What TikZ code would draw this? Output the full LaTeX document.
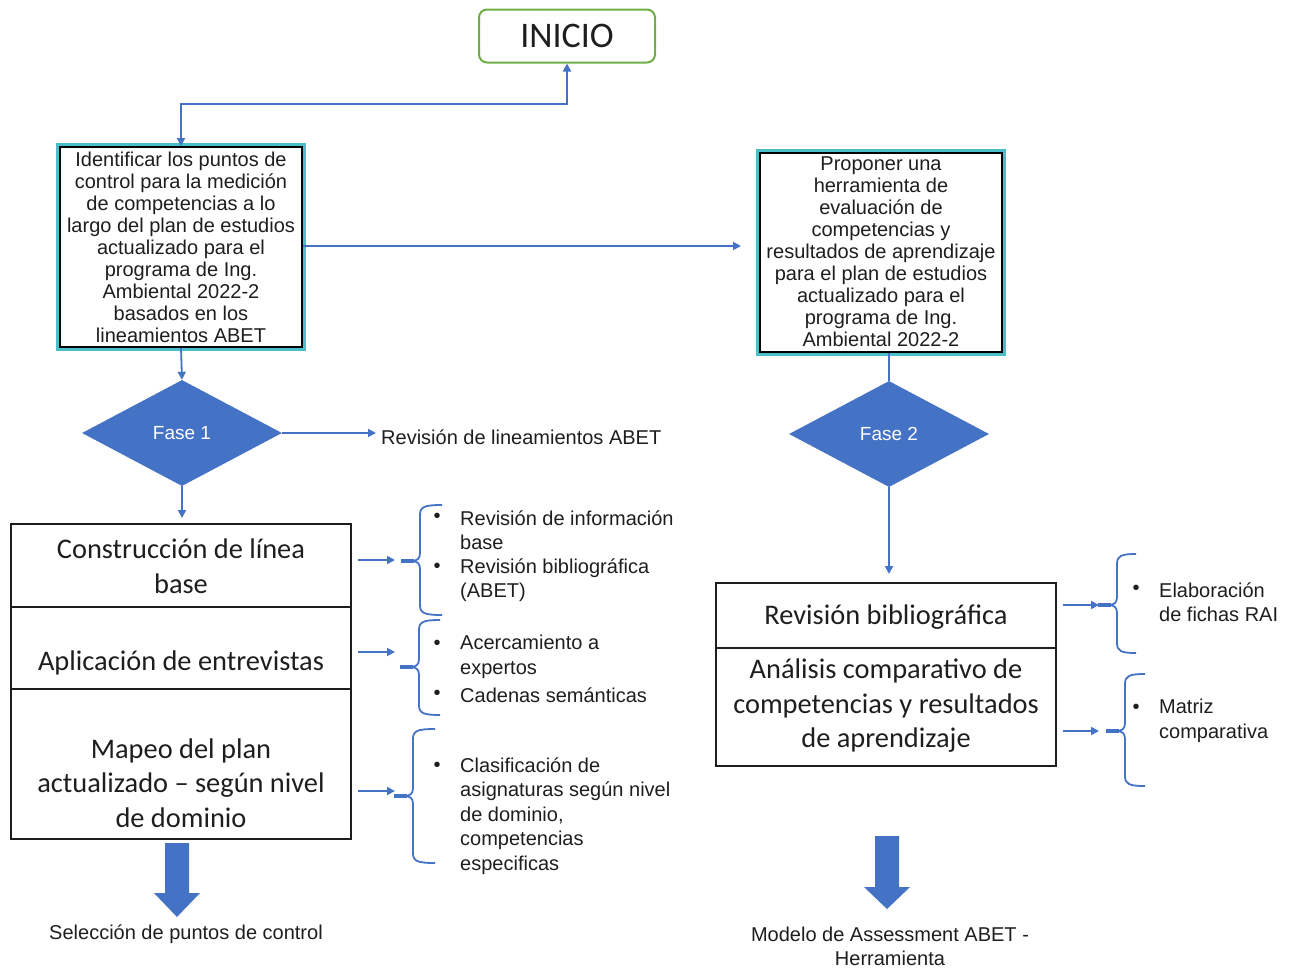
\documentclass[tikz,border=0pt]{standalone}
\usepackage{fontspec}
\setmainfont{Liberation Sans}
\newfontfamily\calfont{Carlito}
\usetikzlibrary{shapes.geometric,arrows.meta,calc}
\definecolor{ablue}{HTML}{4472C4}
\definecolor{agreen}{HTML}{70AD47}
\definecolor{acyan}{HTML}{4BBFC9}
\definecolor{txt}{HTML}{1E1E1E}
\newcommand\bracepath[5]{%
  % #1 x of vertical, #2 top, #3 tip, #4 bottom, #5 hook x end
  \draw[bracestyle] (#5,#2) .. controls ({#1+4},#2) and (#1,{#2+2}) .. (#1,{#2+10})
    -- (#1,{#3-8}) .. controls (#1,{#3-2}) and ({#1-3},#3) .. ({#1-9},#3)
    .. controls ({#1-3},#3) and (#1,{#3+2}) .. (#1,{#3+8})
    -- (#1,{#4-10}) .. controls (#1,{#4-2}) and ({#1+4},#4) .. (#5,#4);
  \draw[ablue,line width=3.5pt] ({#1-19},#3) -- ({#1-6},#3);
}
\begin{document}
\begin{tikzpicture}[x=1pt,y=-1pt,
  conn/.style={draw=ablue, line width=1.8pt, -{Triangle[length=8pt,width=8pt]}},
  plainline/.style={draw=ablue, line width=1.8pt},
  bracestyle/.style={draw=ablue, line width=1.8pt},
  topbox/.style={draw=black, fill=white, line width=2pt, minimum width=242pt, minimum height=200pt,
    inner sep=0pt, align=center, font=\fontsize{20}{22}\selectfont, text=txt,
    preaction={draw=acyan, line width=8pt, rounded corners=8pt}},
  dia/.style={diamond, aspect=1.9, fill=ablue, draw=none, minimum width=200pt,
    minimum height=106pt, inner sep=0pt, text=white, font=\fontsize{19}{20}\selectfont},
  sec/.style={draw=txt, line width=2pt, minimum width=340pt, inner sep=0pt},
  big/.style={font=\calfont\fontsize{28.4}{34.5}\selectfont, align=center, text=txt},
  small/.style={font=\fontsize{20}{24.5}\selectfont, align=left, text=txt, inner sep=0pt},
  bul/.style={font=\fontsize{20}{24}\selectfont, text=txt, inner sep=0pt},
  captext/.style={font=\fontsize{20}{24}\selectfont, align=center, text=txt, inner sep=0pt}
]
\useasboundingbox (0,0) rectangle (1292,969);

% INICIO
\node[draw=agreen, line width=2pt, rounded corners=8pt, minimum width=176pt,
  minimum height=53pt, font=\calfont\fontsize{36}{40}\selectfont, text=txt] (inicio) at (567,36) {INICIO};

% top boxes
\node[topbox] (L) at (181,247) {Identificar los puntos de\\control para la medición\\de competencias a lo\\largo del plan de estudios\\actualizado para el\\programa de Ing.\\Ambiental 2022-2\\basados en los\\lineamientos ABET};
\node[topbox, minimum height=199pt] (R) at (881,252) {Proponer una\\herramienta de\\evaluación de\\competencias y\\resultados de aprendizaje\\para el plan de estudios\\actualizado para el\\programa de Ing.\\Ambiental 2022-2};

\draw[conn, {Triangle[length=8pt,width=8pt]}-{Triangle[length=8pt,width=8pt]}] (L.north) -- ++(0,-42) -| (inicio.south);
\draw[conn, shorten >=18pt] (L.east |- 0,246) -- (R.west |- 0,246);

% diamonds
\node[dia] (D1) at (182,433) {Fase 1};
\node[dia] (D2) at (889,434) {Fase 2};
\draw[conn] (L.south) -- (D1.north);
\draw[plainline] (R.south -| D2.north) -- (D2.north);

\coordinate (revE) at (376,433);
\draw[conn] (D1.east) -- (revE);
\node[small, anchor=west] (revT) at (381,437) {Revisión de lineamientos ABET};

% left stacked box
\node[sec, minimum height=83pt] (b1) at (181,565.5) {};
\node[sec, minimum height=82pt] (b2) at (181,648) {};
\node[sec, minimum height=150pt] (b3) at (181,764) {};
\node[big] (t1) at (181,566) {Construcción de línea\\base};
\node[big] (t2) at (181,663) {Aplicación de entrevistas};
\node[big] (t3) at (181,783) {Mapeo del plan\\actualizado – según nivel\\de dominio};
\draw[conn, shorten >=5pt] (D1.south) -- (D1.south |- b1.north);

% right stacked box
\node[sec, minimum height=65pt] (c1) at (886,615.5) {};
\node[sec, minimum height=118pt] (c2) at (886,707) {};
\node[big] (u1) at (886,617) {Revisión bibliográfica};
\node[big] (u2) at (886,706) {Análisis comparativo de\\competencias y resultados\\de aprendizaje};
\draw[conn, shorten >=8pt] (D2.south) -- (D2.south |- c1.north);

% side arrows (left)
\coordinate (a1s) at (358,560); \coordinate (a1e) at (395,560);
\coordinate (a2s) at (358,652); \coordinate (a2e) at (395,652);
\coordinate (a3s) at (358,791); \coordinate (a3e) at (395,791);
\draw[conn] (a1s) -- (a1e);
\draw[conn] (a2s) -- (a2e);
\draw[conn] (a3s) -- (a3e);
% side arrows (right)
\coordinate (a4s) at (1063,605); \coordinate (a4e) at (1099,605);
\coordinate (a5s) at (1063,731); \coordinate (a5e) at (1099,731);
\draw[conn] (a4s) -- (a4e);
\draw[conn] (a5s) -- (a5e);

% braces
\bracepath{420}{505}{561}{615}{442}
\bracepath{419}{620}{667}{715}{440}
\bracepath{413}{729}{796}{863}{435}
\bracepath{1117}{554}{605}{653}{1136}
\bracepath{1125}{674}{731}{786}{1145}

% bullet items left
\node[bul] (p1) at (437,518) {•};
\node[small, anchor=west] (i1) at (460,530) {Revisión de información\\base};
\node[bul] (p2) at (437,568) {•};
\node[small, anchor=west] (i2) at (460,580) {Revisión bibliográfica\\(ABET)};
\node[bul] (p3) at (437,645) {•};
\node[small, anchor=west] (i3) at (460,657) {Acercamiento a\\expertos};
\node[bul] (p4) at (437,695) {•};
\node[small, anchor=west] (i4) at (460,695) {Cadenas semánticas};
\node[bul] (p5) at (437,767) {•};
\node[small, anchor=west] (i5) at (460,816) {Clasificación de\\asignaturas según nivel\\de dominio,\\competencias\\especificas};
% bullet items right
\node[bul] (p6) at (1136,590) {•};
\node[small, anchor=west] (i6) at (1159,602) {Elaboración\\de fichas RAI};
\node[bul] (p7) at (1136,709) {•};
\node[small, anchor=west] (i7) at (1159,721) {Matriz\\comparativa};

% block arrows
\fill[ablue] (165,843) -- (189,843) -- (189,893) -- (200,893) -- (177,917) -- (154,893) -- (165,893) -- cycle;
\fill[ablue] (875,836) -- (899,836) -- (899,887) -- (910,887) -- (887,909) -- (864,887) -- (875,887) -- cycle;

\node[captext] (s1) at (186,934) {Selección de puntos de control};
\node[captext] (s2) at (890,946) {Modelo de Assessment ABET -\\Herramienta};
\end{tikzpicture}
\end{document}
